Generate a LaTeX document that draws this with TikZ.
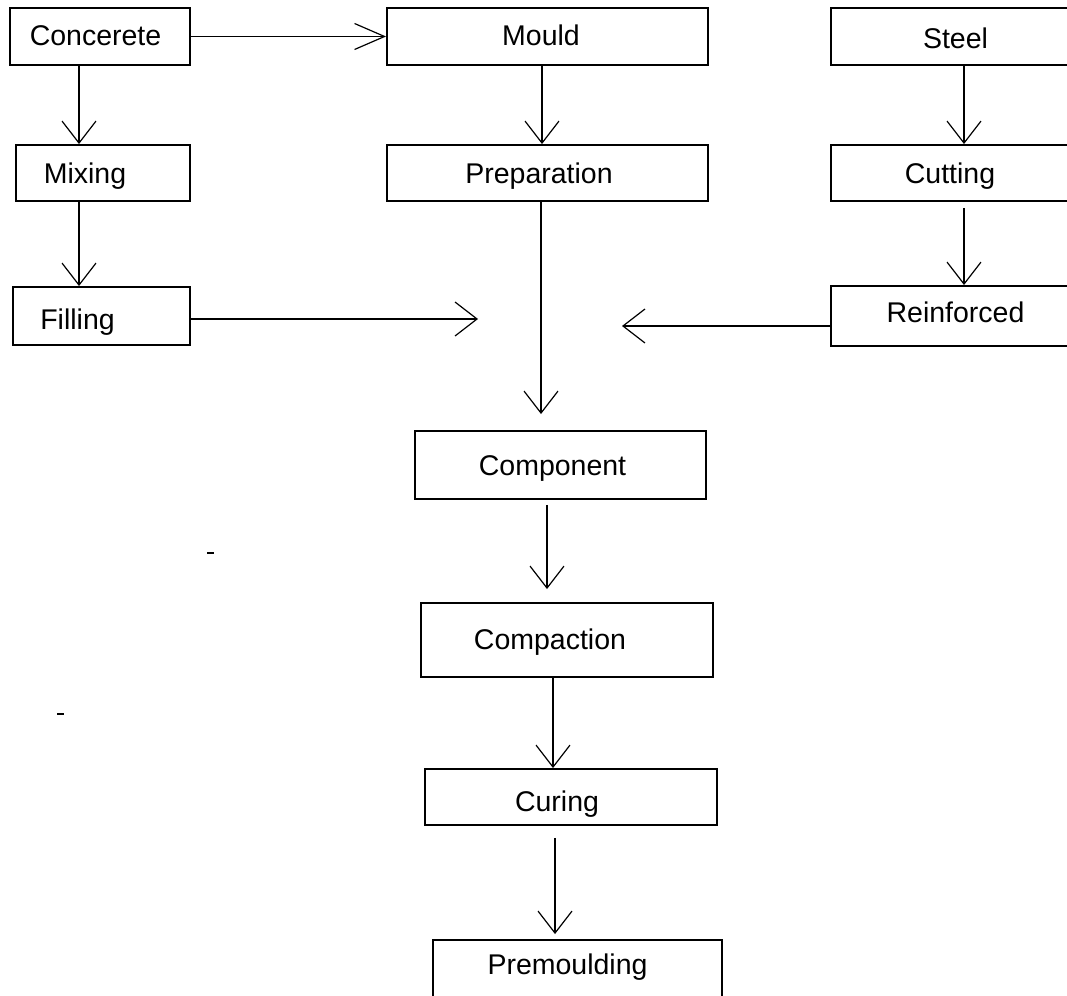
\documentclass[tikz,border=0pt]{standalone}
\usepackage{fontspec}
\setmainfont{Liberation Sans}
\usetikzlibrary{arrows.meta,positioning,calc}

\begin{document}
\begin{tikzpicture}[
  x=1pt, y=-1pt,
  box/.style={draw, line width=1.9pt, inner sep=0pt},
  txt/.style={font=\fontsize{28.5}{32}\selectfont, text height=20.5pt,
              text depth=0pt, inner sep=0pt},
  arr/.style={draw, line width=1.9pt,
              -{Straight Barb[length=22pt, width=34pt, line width=1.2pt]}}
]
\useasboundingbox (0,0) rectangle (1067,995);
\clip (0,0) rectangle (1067,995);

% top row
\node[box, minimum width=180pt, minimum height=57pt,
      label={[txt, xshift=-4.5pt, yshift=1.5pt]center:Concerete}]
  (concrete) at (100,36.5) {};
\node[box, minimum width=321pt, minimum height=57pt,
      label={[txt, xshift=-6.5pt, yshift=1.5pt]center:Mould}]
  (mould) at (547.5,36.5) {};
\node[box, minimum width=249pt, minimum height=57pt,
      label={[txt, yshift=-1.5pt]center:Steel}]
  (steel) at (955.5,36.5) {};

% second row
\node[box, minimum width=174pt, minimum height=56pt,
      label={[txt, xshift=-18pt, yshift=-0.5pt]center:Mixing}]
  (mix) at (103,173) {};
\node[box, minimum width=321pt, minimum height=56pt,
      label={[txt, xshift=-8.5pt]center:Preparation}]
  (prep) at (547.5,173) {};
\node[box, minimum width=249pt, minimum height=56pt,
      label={[txt, xshift=-5.5pt]center:Cutting}]
  (cut) at (955.5,173) {};

% third row
\node[box, minimum width=177pt, minimum height=58pt,
      label={[txt, xshift=-24pt, yshift=-3pt]center:Filling}]
  (fill) at (101.5,316) {};
\node[box, minimum width=249pt, minimum height=60pt,
      label={[txt, yshift=4pt]center:Reinforced}]
  (reinf) at (955.5,316) {};

% main column
\node[box, minimum width=291pt, minimum height=68pt,
      label={[txt, xshift=-8pt]center:Component}]
  (comp) at (560.5,465) {};
\node[box, minimum width=292pt, minimum height=74pt,
      label={[txt, xshift=-17pt, yshift=1pt]center:Compaction}]
  (compact) at (567,640) {};
\node[box, minimum width=292pt, minimum height=56pt,
      label={[txt, xshift=-14pt, yshift=-4.5pt]center:Curing}]
  (cure) at (571,797) {};
\node[box, minimum width=289pt, minimum height=70pt,
      label={[txt, xshift=-10pt, yshift=11pt]center:Premoulding}]
  (premould) at (577.5,975) {};

\coordinate (fillend) at (478,319);
\coordinate (reinfend) at (622,326);

\draw[arr, -{Straight Barb[length=30pt, width=26pt, line width=1.2pt]}]
  (concrete) -- (mould);
\draw[arr] (concrete.south -| 79,0) -- (mix.north -| 79,0);
\draw[arr] (mix.south -| 79,0) -- (fill.north -| 79,0);
\draw[arr] (fill.east |- fillend) -- (fillend);
\draw[arr] (mould.south -| 542,0) -- (prep.north -| 542,0);
\draw[arr] (steel.south -| 964,0) -- (cut.north -| 964,0);
\draw[arr, shorten <=6pt] (cut.south -| 964,0) -- (reinf.north -| 964,0);
\draw[arr] (reinf.west |- reinfend) -- (reinfend);
\draw[arr, shorten >=16pt] (prep.south -| 541,0) -- (comp.north -| 541,0);
\draw[arr, shorten <=5pt, shorten >=13pt]
  (comp.south -| 547,0) -- (compact.north -| 547,0);
\draw[arr] (compact.south -| 553,0) -- (cure.north -| 553,0);
\draw[arr, shorten <=12pt, shorten >=5pt]
  (cure.south -| 555,0) -- (premould.north -| 555,0);

% stray marks
\draw[line width=2pt] (207,553) -- (214,553);
\draw[line width=2pt] (57,714) -- (64,714);
\end{tikzpicture}
\end{document}
